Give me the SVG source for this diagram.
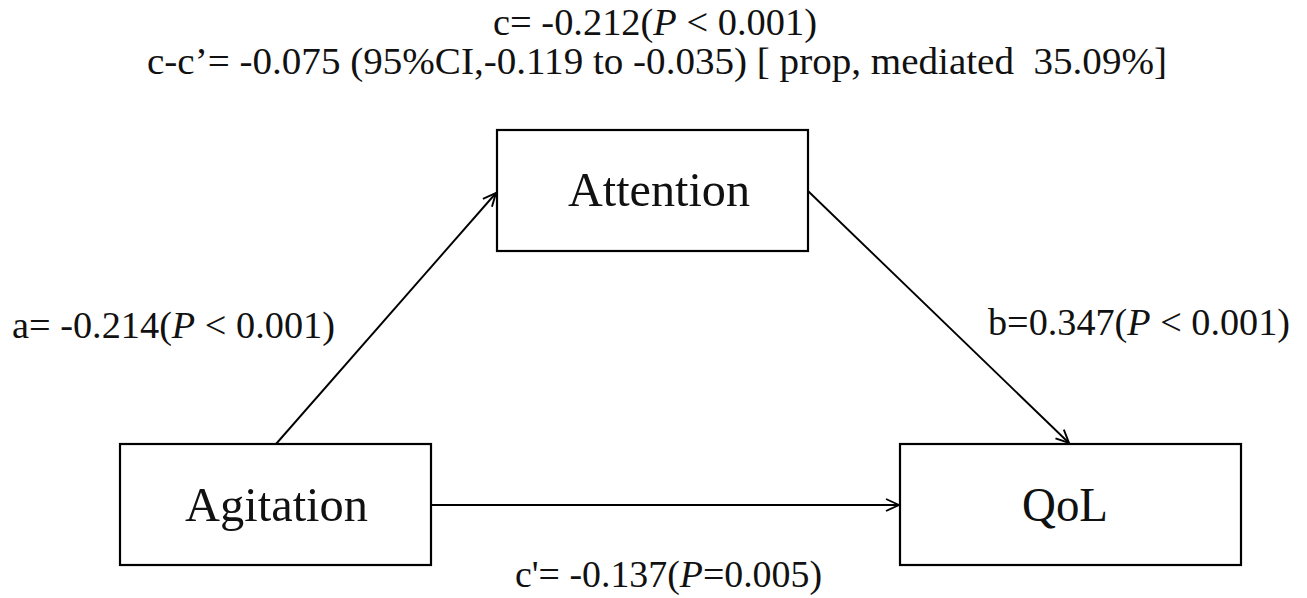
<svg xmlns="http://www.w3.org/2000/svg" width="1307" height="598" viewBox="0 0 1307 598">
<style>
  .box { fill: #ffffff; stroke: #000000; stroke-width: 2.2; }
  .edge { stroke: #000000; stroke-width: 1.9; fill: none; }
  text { font-family: "Liberation Serif", "Times New Roman", serif; fill: #111111; white-space: pre; }
  .lbl { font-size: 38px; font-family: "Liberation Serif", "Times New Roman", serif; }
  .node { font-size: 49px; font-family: "Liberation Serif", "Times New Roman", serif; }
  .it { font-style: italic; }
</style>
<defs>
  <marker id="arr" viewBox="0 0 16 16" refX="15" refY="8" markerWidth="16" markerHeight="16" markerUnits="userSpaceOnUse" orient="auto">
    <path d="M2,2 L15,8 L2,14" fill="none" stroke="#000" stroke-width="1.9"/>
  </marker>
</defs>
<rect width="1307" height="598" fill="#ffffff"/>

<g id="title">
  <text class="lbl" x="493" y="35" textLength="324" lengthAdjust="spacingAndGlyphs">c= -0.212(<tspan class="it">P</tspan> &lt; 0.001)</text>
  <text class="lbl" x="147" y="74" textLength="1020" lengthAdjust="spacingAndGlyphs">c-c’= -0.075 (95%CI,-0.119 to -0.035) [ prop, mediated  35.09%]</text>
</g>

<g id="connectors">
  <line class="edge" x1="276" y1="444" x2="496" y2="193" marker-end="url(#arr)"/>
  <line class="edge" x1="808" y1="191" x2="1069" y2="443" marker-end="url(#arr)"/>
  <line class="edge" x1="431" y1="505" x2="899" y2="505" marker-end="url(#arr)"/>
  <text class="lbl" x="12" y="338" textLength="323" lengthAdjust="spacingAndGlyphs">a= -0.214(<tspan class="it">P</tspan> &lt; 0.001)</text>
  <text class="lbl" x="988" y="335" textLength="302" lengthAdjust="spacingAndGlyphs">b=0.347(<tspan class="it">P</tspan> &lt; 0.001)</text>
  <text class="lbl" x="515" y="587" textLength="307" lengthAdjust="spacingAndGlyphs">c'= -0.137(<tspan class="it">P</tspan>=0.005)</text>
</g>

<g id="node-attention">
  <rect class="box" x="497" y="130" width="311" height="121"/>
  <text class="node" x="568" y="206" textLength="182" lengthAdjust="spacingAndGlyphs">Attention</text>
</g>

<g id="node-agitation">
  <rect class="box" x="120" y="444" width="311" height="121"/>
  <text class="node" x="185" y="521" textLength="183" lengthAdjust="spacingAndGlyphs">Agitation</text>
</g>

<g id="node-qol">
  <rect class="box" x="900" y="444" width="341" height="121"/>
  <text class="node" x="1022" y="521" textLength="86" lengthAdjust="spacingAndGlyphs">QoL</text>
</g>
</svg>
